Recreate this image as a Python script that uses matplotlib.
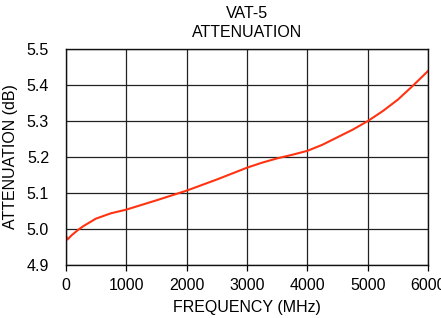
import matplotlib
matplotlib.use("Agg")
import matplotlib.pyplot as plt

# data
freq = [5, 30, 100, 200, 300, 500, 750, 1000, 1500, 2000, 2500,
        3000, 3250, 3500, 3750, 4000, 4250, 4500, 4750, 5000, 5250,
        5500, 5750, 6000]
atten = [4.980, 4.970, 4.982, 4.996, 5.008, 5.028, 5.043, 5.053, 5.079,
         5.106, 5.137, 5.170, 5.184, 5.196, 5.206, 5.217, 5.234, 5.255,
         5.276, 5.300, 5.328, 5.360, 5.399, 5.440]
xticks = [0, 1000, 2000, 3000, 4000, 5000, 6000]
yticks = [4.9, 5.0, 5.1, 5.2, 5.3, 5.4, 5.5]

plt.rcParams['font.family'] = ['Liberation Sans', 'DejaVu Sans']

fig = plt.figure(figsize=(4.41, 3.18), dpi=100)
ax = fig.add_axes([0.149, 0.168, 0.822, 0.677])

ax.plot(freq, atten, color='#ff3311', linewidth=1.5)

ax.set_xlim(0, 6000)
ax.set_ylim(4.9, 5.5)
ax.set_xticks(xticks)
ax.set_yticks(yticks)
ax.set_yticklabels(['%.1f' % v for v in yticks])
ax.grid(True, color='#222222', linewidth=0.9)
ax.tick_params(axis='x', length=4, width=0.9, labelsize=11.5, pad=6)
ax.tick_params(axis='y', length=0, labelsize=11.5, pad=12)
for s in ax.spines.values():
    s.set_linewidth(1.0)
    s.set_color('#111111')

ax.set_title('VAT-5\nATTENUATION', fontsize=11.5, pad=9, linespacing=1.3)
ax.set_xlabel('FREQUENCY (MHz)', fontsize=11.5, labelpad=5)
ax.set_ylabel('ATTENUATION (dB)', fontsize=11.5, labelpad=6)

fig.savefig('out.png', dpi=100)
